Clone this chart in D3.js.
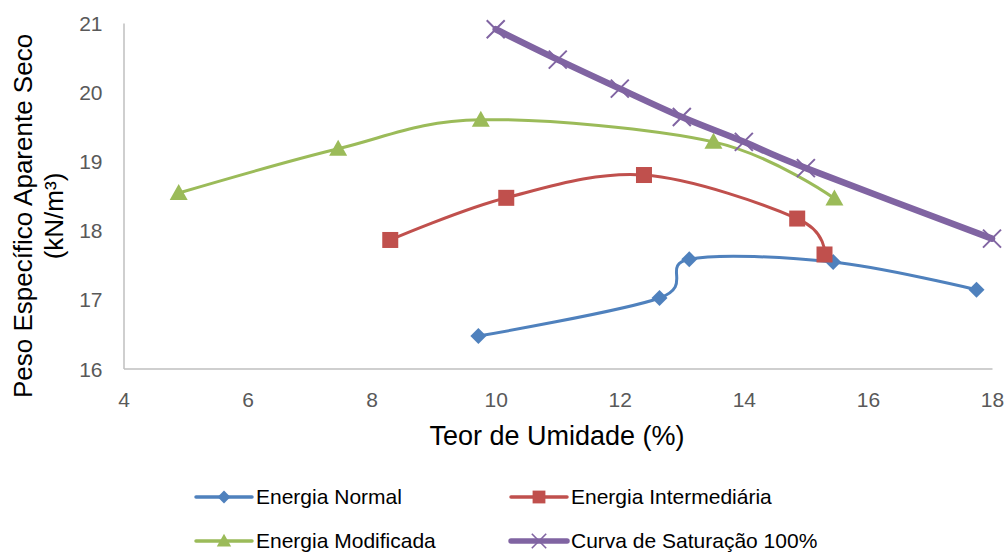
<!DOCTYPE html>
<html>
<head>
<meta charset="utf-8">
<script src="https://cdn.jsdelivr.net/npm/d3@7"></script>
<style>
  body { margin: 0; background: #fff; }
  text { font-family: "Liberation Sans", Arial, sans-serif; }
</style>
</head>
<body>
<svg width="1006" height="552"></svg>
<script>
// data
var normalX = [9.72, 12.64, 13.12, 15.44, 17.75];
var normalY = [16.47, 17.02, 17.58, 17.54, 17.14];
var interX = [8.30, 10.17, 12.39, 14.86, 15.30];
var interY = [17.86, 18.47, 18.80, 18.17, 17.65];
var modX = [4.89, 7.46, 9.76, 13.51, 15.46];
var modY = [18.54, 19.18, 19.60, 19.28, 18.46];
var satX = [10, 11, 12, 13, 14, 15, 18];
var satY = [20.91, 20.47, 20.05, 19.64, 19.28, 18.90, 17.88];
var xTicks = [4, 6, 8, 10, 12, 14, 16, 18];
var yTicks = [16, 17, 18, 19, 20, 21];
var seriesNames = ["Energia Normal", "Energia Intermediária", "Energia Modificada", "Curva de Saturação 100%"];

var svg = d3.select("svg");
var x = d3.scaleLinear().domain([4, 18]).range([123.5, 992]);
var y = d3.scaleLinear().domain([16, 21]).range([368.5, 23]);

var series = [
  {name: seriesNames[0], xs: normalX, ys: normalY, color: "#4F81BD", width: 3, marker: "diamond"},
  {name: seriesNames[1], xs: interX, ys: interY, color: "#C0504D", width: 3, marker: "square"},
  {name: seriesNames[2], xs: modX, ys: modY, color: "#9BBB59", width: 3, marker: "triangle"},
  {name: seriesNames[3], xs: satX, ys: satY, color: "#8064A2", width: 6.5, marker: "cross"}
];

// axes
var gx = svg.append("g").attr("transform", "translate(0,368.5)")
  .call(d3.axisBottom(x).tickValues(xTicks).tickFormat(d3.format("d")).tickSize(0).tickPadding(0));
var gy = svg.append("g").attr("transform", "translate(123.5,0)")
  .call(d3.axisLeft(y).tickValues(yTicks).tickFormat(d3.format("d")).tickSize(0).tickPadding(21));
[gx, gy].forEach(function(g) {
  g.attr("font-size", null).attr("font-family", null);
  g.select(".domain").attr("stroke", "#BFBFBF").attr("stroke-width", 1.5);
  g.selectAll("text").attr("fill", "#595959").style("font-size", "21px");
});
gx.selectAll("text").attr("y", 38).attr("dy", null);
gy.selectAll("text").attr("dy", "0.36em");

// titles
svg.append("text").attr("x", 557).attr("y", 445).attr("text-anchor", "middle")
  .style("font-size", "27px").attr("fill", "#000").text("Teor de Umidade (%)");
var yt = svg.append("text").attr("transform", "translate(32,216) rotate(-90)")
  .attr("text-anchor", "middle").style("font-size", "26px").attr("fill", "#000");
yt.append("tspan").attr("x", 0).attr("y", 0).text("Peso Específico Aparente Seco");
yt.append("tspan").attr("x", 0).attr("y", 31).text("(kN/m³)");

var line = d3.line().curve(d3.curveCardinal.tension(0))
  .x(function(d) { return x(d[0]); })
  .y(function(d) { return y(d[1]); });

function drawMarker(g, kind, cx, cy, color) {
  if (kind === "diamond") {
    g.append("path").attr("d", "M0,-8L8,0L0,8L-8,0Z")
      .attr("transform", "translate(" + cx + "," + cy + ")").attr("fill", color);
  } else if (kind === "square") {
    g.append("rect").attr("x", cx - 8).attr("y", cy - 8).attr("width", 16).attr("height", 16)
      .attr("fill", color);
  } else if (kind === "triangle") {
    g.append("path").attr("d", "M0,-9L9,7L-9,7Z")
      .attr("transform", "translate(" + cx + "," + cy + ")").attr("fill", color);
  } else {
    g.append("path").attr("d", "M-9,-9L9,9M-9,9L9,-9")
      .attr("transform", "translate(" + cx + "," + cy + ")")
      .attr("stroke", color).attr("stroke-width", 2).attr("fill", "none");
  }
}

series.forEach(function(s) {
  var pts = s.xs.map(function(v, i) { return [v, s.ys[i]]; });
  var g = svg.append("g");
  g.append("path").datum(pts).attr("d", line)
    .attr("fill", "none").attr("stroke", s.color).attr("stroke-width", s.width)
    .attr("stroke-linecap", "round");
  pts.forEach(function(p) { drawMarker(g, s.marker, x(p[0]), y(p[1]), s.color); });
});

// legend
var legPos = [[196, 497], [511, 497], [196, 541], [511, 541]];
series.forEach(function(s, i) {
  var lg = svg.append("g").attr("transform", "translate(" + legPos[i][0] + "," + legPos[i][1] + ")");
  lg.append("line").attr("x1", 0).attr("x2", 56).attr("stroke", s.color)
    .attr("stroke-width", s.width === 3 ? 3.5 : 5.5).attr("stroke-linecap", "round");
  var m = lg.append("g").attr("transform", "translate(28,0) scale(0.8)");
  drawMarker(m, s.marker, 0, 0, s.color);
  lg.append("text").attr("x", 60).attr("y", 7).style("font-size", "21px")
    .attr("fill", "#000").text(s.name);
});
</script>
</body>
</html>
